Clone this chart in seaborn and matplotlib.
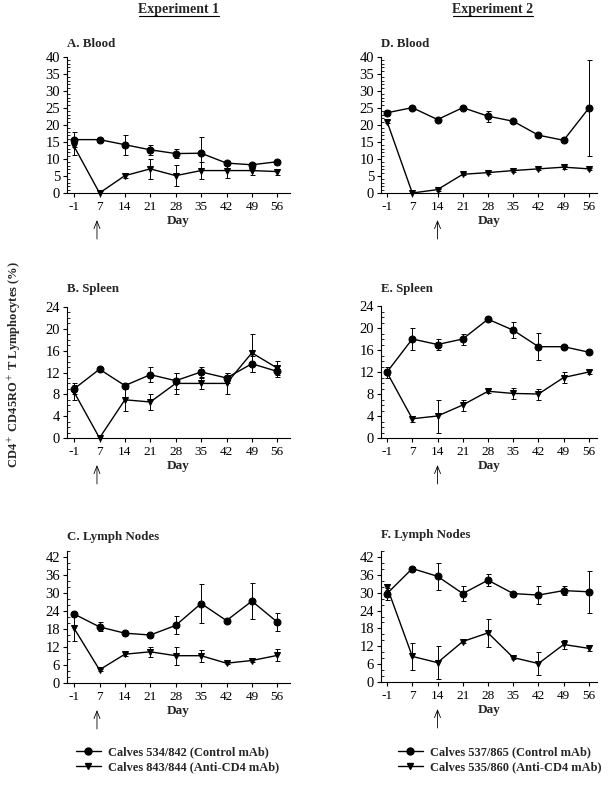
import numpy as np
import pandas as pd
import matplotlib
matplotlib.use("Agg")
import matplotlib.pyplot as plt
from matplotlib.lines import Line2D
from matplotlib.ticker import MultipleLocator
import seaborn as sns

days = [-1, 7, 14, 21, 28, 35, 42, 49, 56]

# Experiment 1
blood1_ctrl = [15.7, 15.7, 14.2, 12.7, 11.6, 11.7, 8.8, 8.3, 9.2]
blood1_ctrl_err = [2.3, 0.3, 2.9, 1.4, 1.3, 4.8, 0.4, 0.5, 0.5]
blood1_anti = [13.7, 0.0, 5.1, 7.1, 5.1, 6.6, 6.6, 6.6, 6.3]
blood1_anti_err = [2.6, 0.0, 0.8, 3.0, 3.0, 2.4, 2.3, 1.2, 0.9]

spleen1_ctrl = [9.0, 12.6, 9.6, 11.6, 10.5, 12.1, 11.0, 13.6, 12.2]
spleen1_ctrl_err = [1.0, 0.3, 0.4, 1.4, 1.5, 0.9, 1.0, 1.5, 1.0]
spleen1_anti = [8.4, 0.0, 7.0, 6.6, 10.0, 10.0, 10.0, 15.6, 12.8]
spleen1_anti_err = [1.4, 0.0, 2.0, 1.5, 2.0, 1.0, 2.0, 3.5, 1.3]

lymph1_ctrl = [23.0, 18.7, 16.6, 16.0, 19.2, 26.5, 20.8, 27.3, 20.3]
lymph1_ctrl_err = [0.8, 1.5, 0.4, 0.5, 3.0, 6.6, 0.4, 6.0, 2.9]
lymph1_anti = [18.2, 4.4, 9.6, 10.4, 9.1, 9.1, 6.6, 7.5, 9.2]
lymph1_anti_err = [4.2, 0.4, 0.5, 1.6, 3.0, 2.0, 0.4, 0.5, 2.0]

# Experiment 2
blood2_ctrl = [23.6, 25.1, 21.6, 25.1, 22.6, 21.1, 17.0, 15.5, 25.0]
blood2_ctrl_err = [0.8, 0.4, 0.5, 0.5, 1.6, 0.4, 0.5, 0.4, 14.0]
blood2_anti = [21.0, 0.0, 1.0, 5.5, 6.0, 6.6, 7.1, 7.6, 7.1]
blood2_anti_err = [0.5, 0.0, 0.3, 0.3, 0.3, 0.3, 0.3, 0.4, 0.4]

spleen2_ctrl = [12.0, 18.0, 17.0, 18.0, 21.6, 19.6, 16.6, 16.6, 15.6]
spleen2_ctrl_err = [1.0, 2.0, 1.0, 1.0, 0.3, 1.5, 2.5, 0.3, 0.3]
spleen2_anti = [11.9, 3.5, 4.0, 6.0, 8.5, 8.1, 8.0, 11.0, 12.0]
spleen2_anti_err = [0.5, 0.5, 3.0, 1.0, 0.4, 1.0, 1.0, 1.0, 0.3]

lymph2_ctrl = [29.7, 38.1, 35.5, 29.7, 34.2, 29.7, 29.2, 30.7, 30.3]
lymph2_ctrl_err = [2.0, 0.5, 4.5, 2.5, 2.0, 0.5, 3.0, 1.5, 7.0]
lymph2_anti = [31.9, 8.6, 6.5, 13.6, 16.5, 8.2, 6.2, 12.6, 11.3]
lymph2_anti_err = [1.0, 4.6, 5.6, 0.4, 4.6, 0.4, 4.0, 1.5, 1.0]

legend1 = ["Calves 534/842 (Control mAb)", "Calves 843/844 (Anti-CD4 mAb)"]
legend2 = ["Calves 537/865 (Control mAb)", "Calves 535/860 (Anti-CD4 mAb)"]

W, H = 608, 786

sns.set_theme(style="ticks")
plt.rcParams["font.family"] = ["Liberation Serif", "DejaVu Serif"]
plt.rcParams["mathtext.fontset"] = "stix"
plt.rcParams["axes.linewidth"] = 0.8

fig = plt.figure(figsize=(W / 100, H / 100), dpi=100)


def px_axes(l, r, t, b):
    return fig.add_axes([l / W, 1 - b / H, (r - l) / W, (b - t) / H])


def draw_panel(box, title, title_y, ctrl, ctrl_err, anti, anti_err,
               ylim, major, minor, xlim, arrow_x):
    l, r, t, b = box
    ax = px_axes(l, r, t, b)
    pos = np.arange(len(days))
    df = pd.DataFrame({"pos": np.r_[pos, pos],
                       "val": list(ctrl) + list(anti),
                       "grp": ["ctrl"] * len(days) + ["anti"] * len(days)})
    sns.lineplot(data=df, x="pos", y="val", hue="grp", style="grp",
                 markers={"ctrl": "o", "anti": "v"}, dashes=False,
                 palette={"ctrl": "black", "anti": "black"},
                 markersize=5, linewidth=1, markeredgecolor="black",
                 legend=False, ax=ax, clip_on=False, zorder=3)
    for v, e in [(ctrl, ctrl_err), (anti, anti_err)]:
        ax.errorbar(pos, v, yerr=e, fmt="none", ecolor="black",
                    elinewidth=0.7, capsize=1.8, capthick=0.7, clip_on=False)
    ax.set_xlim(*xlim)
    ax.set_ylim(*ylim)
    ax.set_xticks(pos)
    ax.set_xticklabels([str(d) for d in days])
    ax.yaxis.set_major_locator(MultipleLocator(major))
    ax.yaxis.set_minor_locator(MultipleLocator(minor))
    ax.tick_params(axis="x", direction="out", length=3, width=0.8,
                   labelsize=9.5, pad=2.5, colors="black")
    ax.tick_params(axis="y", which="major", direction="out", length=3,
                   width=0.8, labelsize=10.5, pad=2, colors="black")
    ax.tick_params(axis="y", which="minor", direction="in", length=2.5,
                   width=0.6, colors="black")
    ax.set_ylabel("")
    ax.set_xlabel("Day", fontsize=9.5, fontweight="bold", labelpad=2)
    sns.despine(ax=ax)
    for s in ["left", "bottom"]:
        ax.spines[s].set_color("black")
    fig.text(l / W, 1 - title_y / H, title, ha="left", va="center",
             fontsize=9.3, fontweight="bold")
    h = b - t
    ax.annotate("", xy=(arrow_x, -27 / h), xycoords=("data", "axes fraction"),
                xytext=(arrow_x, -46 / h), textcoords=("data", "axes fraction"),
                arrowprops=dict(arrowstyle="->,head_length=0.45,head_width=0.18",
                                lw=0.6, color="black", shrinkA=0, shrinkB=0),
                annotation_clip=False)
    return ax


left_x = (-0.28, 8.5)
right_x = (-0.24, 8.32)

draw_panel((67, 290, 57, 193), "A. Blood", 44, blood1_ctrl, blood1_ctrl_err,
           blood1_anti, blood1_anti_err, (0, 40), 5, 1, left_x, 0.9)
draw_panel((67, 290, 307, 438), "B. Spleen", 289, spleen1_ctrl, spleen1_ctrl_err,
           spleen1_anti, spleen1_anti_err, (0, 24), 4, 1, left_x, 0.9)
draw_panel((67, 290, 551, 683), "C. Lymph Nodes", 537, lymph1_ctrl, lymph1_ctrl_err,
           lymph1_anti, lymph1_anti_err, (0, 44), 6, 2, left_x, 0.9)
draw_panel((381, 597, 57, 193), "D. Blood", 44, blood2_ctrl, blood2_ctrl_err,
           blood2_anti, blood2_anti_err, (0, 40), 5, 1, right_x, 2.0)
draw_panel((381, 597, 306, 438), "E. Spleen", 289, spleen2_ctrl, spleen2_ctrl_err,
           spleen2_anti, spleen2_anti_err, (0, 24), 4, 1, right_x, 2.0)
draw_panel((381, 597, 551, 682), "F. Lymph Nodes", 535, lymph2_ctrl, lymph2_ctrl_err,
           lymph2_anti, lymph2_anti_err, (0, 44), 6, 2, right_x, 2.0)

# column headers, underlined
for cx, txt in [(179, "Experiment 1"), (493, "Experiment 2")]:
    t = fig.text(cx / W, 1 - 9 / H, txt, ha="center", va="center",
                 fontsize=10, fontweight="bold")
    fig.add_artist(Line2D([(cx - 40) / W, (cx + 40) / W], [1 - 16 / H, 1 - 16 / H],
                          color="black", lw=0.8))

fig.text(14 / W, 1 - 365 / H, r"CD4$^+$ CD45RO$^+$ T Lymphocytes (%)",
         rotation=90, ha="center", va="center", fontsize=9, fontweight="bold")

handles = [Line2D([], [], color="black", marker="o", markersize=5, lw=1),
           Line2D([], [], color="black", marker="v", markersize=5, lw=1)]
for lx, labels in [(76, legend1), (398, legend2)]:
    fig.legend(handles, labels, loc="upper left",
               bbox_to_anchor=(lx / W, 1 - 746 / H), frameon=False,
               prop=dict(weight="bold", size=8.9), handlelength=2.0,
               handletextpad=0.6, labelspacing=0.3, borderpad=0,
               borderaxespad=0)

fig.savefig("out.png", dpi=100)
